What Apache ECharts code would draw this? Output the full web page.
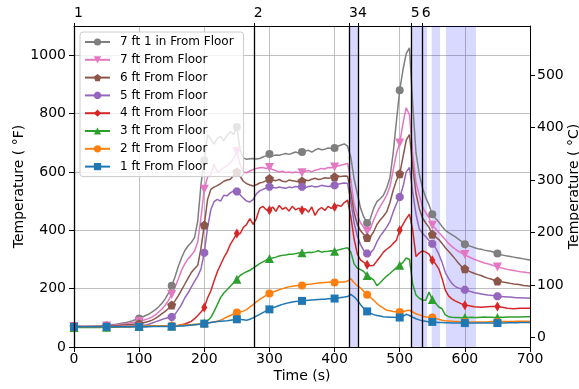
<!DOCTYPE html>
<html><head><meta charset="utf-8">
<script src="https://cdn.jsdelivr.net/npm/echarts@6/dist/echarts.min.js"></script>
<style>html,body{margin:0;padding:0;background:#fff}#c{width:579px;height:389px}</style>
</head><body><div id="c"></div>
<script>
// ---- data ----
const times = [0,5,10,15,20,25,30,35,40,45,50,55,60,65,70,75,80,85,90,95,100,105,110,115,120,125,130,135,140,145,150,155,160,165,170,175,180,185,190,195,200,205,210,215,220,225,230,235,240,245,250,255,260,265,270,275,280,285,290,295,300,305,310,315,320,325,330,335,340,345,350,355,360,365,370,375,380,385,390,395,400,405,410,415,420,425,430,435,440,445,450,455,460,465,470,475,480,485,490,495,500,505,510,515,520,525,530,535,540,545,550,555,560,565,570,575,580,585,590,595,600,605,610,615,620,625,630,635,640,645,650,655,660,665,670,675,680,685,690,695,700];
const markerTimes = [0,50,100,150,200,250,300,350,400,450,500,550,600,650];
const seriesNames = ['7 ft 1 in From Floor','7 ft From Floor','6 ft From Floor','5 ft From Floor','4 ft From Floor','3 ft From Floor','2 ft From Floor','1 ft From Floor'];
const ft7in1 = [70,70,70,70,71,71,71,72,72,73, 74,75,77,78,80,82,84,87,90,94, 98,103,108,113,120,128,138,150,165,185, 210,240,275,305,330,346,358,375,432,558, 640,728,712,695,715,722,706,725,738,728, 754,675,648,643,645,646,644,646,651,655, 661,655,658,657,660,663,660,664,668,665, 668,672,674,668,675,680,676,678,682,680, 682,688,692,696,688,650,575,525,475,445, 425,440,475,498,508,520,545,580,665,775, 880,950,1005,1025,830,665,592,545,512,487, 455,440,428,413,400,392,385,378,370,362, 352,348,344,340,337,335,332,330,328,324, 320,316,314,312,310,308,306,304,302,300, 298];
const ft7 = [70,70,70,70,70,70,70,71,71,72, 72,73,74,75,76,78,80,82,84,86, 87,90,94,98,103,110,120,130,143,160, 180,205,232,262,285,302,314,329,360,445, 541,582,590,626,600,605,615,622,632,645, 670,625,600,597,603,608,612,614,615,612, 615,608,604,600,602,598,600,597,600,598, 597,602,605,600,606,608,612,610,615,614, 617,620,623,626,629,571,490,452,425,410, 397,405,435,460,482,500,520,550,606,663, 699,766,820,795,660,565,520,480,460,443, 417,405,392,380,368,355,345,336,328,322, 317,310,305,300,296,292,288,285,282,278, 274,272,269,266,264,262,260,258,257,255, 254];
const ft6 = [70,70,70,70,70,70,70,70,70,71, 71,72,72,73,74,75,76,77,78,79, 80,82,85,88,92,98,106,114,122,132, 144,158,175,195,215,235,255,268,280,340, 418,505,540,548,553,560,568,572,575,588, 600,585,568,560,555,552,556,562,565,570, 577,572,570,574,568,566,572,570,568,566, 569,572,570,575,578,574,576,580,578,580, 583,585,584,586,585,530,460,420,398,385, 375,378,395,420,435,448,463,495,537,571, 594,651,709,728,617,526,475,442,425,410, 386,378,368,355,340,328,315,302,288,276, 268,262,256,252,248,245,240,236,233,229, 226,224,222,220,218,216,215,213,211,210, 208];
const ft5 = [70,70,70,69,69,69,69,69,69,69, 70,70,70,70,71,71,72,72,72,72, 72,74,75,78,82,86,90,94,98,101, 103,112,128,145,168,185,205,225,243,268, 323,409,470,498,506,500,520,518,528,535, 533,522,510,500,497,505,525,535,540,545, 549,547,545,548,546,544,548,546,550,548, 549,546,550,552,548,550,554,552,550,552, 554,558,560,562,560,500,425,380,350,330, 320,322,335,360,380,395,411,430,463,491, 514,549,600,615,530,455,405,390,378,365, 354,340,318,290,255,235,218,208,202,199, 196,192,189,186,184,182,180,178,177,176, 174,173,172,171,171,170,169,169,168,168, 167];
const ft4 = [68,68,68,68,68,68,68,68,68,68, 68,68,69,69,69,69,69,69,70,70, 70,70,70,71,71,71,71,72,72,72, 72,73,74,76,79,83,88,97,108,120, 135,168,192,226,258,282,306,325,352,370, 389,388,410,420,440,420,440,475,482,470, 469,480,465,485,472,478,466,482,470,476, 469,474,462,480,451,470,478,468,482,475, 480,486,482,495,503,446,370,318,298,290, 282,278,280,295,309,325,335,343,355,366, 400,420,440,455,400,310,322,330,325,318, 297,285,268,235,195,175,165,158,153,148, 143,142,140,138,137,136,137,138,139,139, 139,137,135,133,132,131,132,133,133,133, 133];
const ft3 = [67,67,67,67,67,67,67,67,67,68, 68,68,68,68,69,69,69,69,70,70, 70,70,70,71,71,71,71,72,72,72, 72,73,73,74,74,75,76,77,78,80, 83,90,101,122,145,169,185,196,208,220, 232,245,252,258,263,270,278,286,292,298, 303,305,308,312,314,315,318,318,320,322, 323,322,325,324,326,330,325,327,328,330, 328,332,335,338,340,325,285,270,265,258, 245,238,230,210,220,232,243,252,262,272, 280,290,305,300,215,178,167,161,160,188, 163,150,137,131,110,104,102,101,101,100, 101,101,102,101,101,102,103,102,102,101, 101,102,102,103,103,103,103,103,104,104, 104];
const ft2 = [69,69,69,69,69,69,69,69,69,69, 69,69,69,69,70,70,70,70,70,70, 70,70,71,71,71,72,72,72,73,73, 73,74,74,75,75,76,76,77,78,79, 80,82,84,86,88,92,97,103,108,113, 118,120,123,128,137,145,155,163,170,177, 183,188,192,196,200,203,206,208,210,211, 211,213,215,216,218,219,220,221,222,223, 221,222,223,223,226,234,220,210,202,190, 179,170,160,149,140,133,126,124,122,121, 120,122,124,126,120,114,110,106,103,102, 101,98,95,92,90,89,88,87,87,86, 86,86,86,86,86,86,86,86,87,87, 86,87,87,87,87,87,88,88,88,88, 88];
const ft1 = [69,69,69,69,69,69,69,69,69,69, 69,69,69,69,69,69,69,69,69,69, 69,69,69,69,70,70,70,70,70,70, 70,71,72,72,73,74,75,76,77,78, 80,82,84,86,87,88,89,90,92,93, 95,94,93,92,95,100,106,112,118,124, 129,134,138,142,146,149,152,154,156,157, 158,159,160,161,162,163,164,164,165,165, 166,168,170,171,173,180,172,160,145,132, 122,116,111,108,106,104,103,102,102,101, 101,105,112,108,102,97,93,90,88,86, 86,85,84,84,83,83,82,82,82,82, 82,82,82,82,82,82,82,82,82,82, 82,82,82,83,83,83,83,84,84,84, 84];
const eventTimes = [0,276,422,436,517,534];
const eventLabels = ['1','2','3','4','5','6'];
const shadedBands = [[422,436],[517,542],[549,562],[571,617]];
const xTicks = [0,100,200,300,400,500,600,700];
const yTicksF = [0,200,400,600,800,1000];
const yTicksC = [0,100,200,300,400,500];

// ---- styles ----
const FONT = 'DejaVu Sans';
const allValues = [ft7in1, ft7, ft6, ft5, ft4, ft3, ft2, ft1];
const colors = ['#7f7f7f','#e377c2','#8c564b','#9467bd','#d62728','#2ca02c','#ff7f0e','#1f77b4'];
const pentagon = 'path://M0,-1L0.951,-0.309L0.588,0.809L-0.588,0.809L-0.951,-0.309Z';
const octagon = 'path://M-0.414,-1L0.414,-1L1,-0.414L1,0.414L0.414,1L-0.414,1L-1,0.414L-1,-0.414Z';
const triDown = 'path://M-1,-1L1,-1L0,1Z';
const symbols = ['circle', triDown, pentagon, octagon, 'diamond', 'triangle', 'circle', 'rect'];
const sizes = [8, 9, 9, 8, [6,10], 9, 8, 8];

function buildData(vals){
  return times.map((t,i)=>{
    const item = {value:[t, vals[i]]};
    if (markerTimes.indexOf(t) < 0) item.symbol = 'none';
    return item;
  });
}

const series = [];
series.push({
  type:'line', data:[], silent:true, z:1, xAxisIndex:0, yAxisIndex:0,
  markArea:{silent:true, itemStyle:{color:'rgba(0,0,255,0.15)'},
    data: shadedBands.map(b=>[{xAxis:b[0]},{xAxis:b[1]}])}
});
seriesNames.forEach((n,k)=>{
  series.push({
    name:n, type:'line', xAxisIndex:0, yAxisIndex:0,
    data: buildData(allValues[k]),
    symbol: symbols[k], symbolSize: sizes[k],
    showSymbol:true, showAllSymbol:true,
    lineStyle:{width:1.5, color:colors[k]},
    itemStyle:{color:colors[k]},
    emphasis:{disabled:true}, z:3
  });
});
series.push({
  type:'line', data:[], silent:true, z:6, xAxisIndex:0, yAxisIndex:0,
  markLine:{silent:true, symbol:['none','none'], label:{show:false},
    lineStyle:{color:'#000', width:1.3, type:'solid'},
    data: eventTimes.map(t=>({xAxis:t}))}
});

const axisText = {color:'#000', fontSize:14, fontFamily:FONT};
const plain = (v)=>String(v);
const option = {
  animation:false,
  backgroundColor:'#fff',
  grid:{left:74, right:49, top:26, bottom:42, containLabel:false, outerBoundsMode:'none'},
  legend:{
    orient:'vertical', left:80, top:32,
    data: seriesNames,
    itemWidth:25, itemHeight:9, itemGap:5.8,
    padding:[4,10,4,4],
    backgroundColor:'rgba(255,255,255,0.8)', borderColor:'#cccccc', borderWidth:1, borderRadius:3,
    textStyle:{color:'#000', fontSize:12, fontFamily:FONT, padding:[0,0,0,5]},
    selectedMode:false
  },
  xAxis:[{
    type:'value', position:'bottom', min:0, max:700, interval:100,
    name:'Time (s)', nameLocation:'middle', nameGap:22, nameMoveOverlap:false, nameTextStyle:axisText,
    axisLine:{show:true, onZero:false, lineStyle:{color:'#000', width:1}},
    axisTick:{show:true, inside:false, length:5, lineStyle:{color:'#000'}},
    axisLabel:Object.assign({margin:5, formatter:plain}, axisText),
    splitLine:{show:true, lineStyle:{color:'#b0b0b0', width:0.8}}
  },{
    type:'value', position:'top', min:0, max:700,
    axisLine:{show:true, onZero:false, lineStyle:{color:'#000', width:1}},
    axisTick:{show:true, inside:false, length:3, customValues:eventTimes, lineStyle:{color:'#000'}},
    axisLabel:Object.assign({margin:6, align:'left', customValues:eventTimes,
      formatter:(v)=>{ const i = eventTimes.indexOf(v); return i>=0 ? eventLabels[i] : ''; }}, axisText),
    splitLine:{show:false}
  }],
  yAxis:[{
    type:'value', position:'left', min:0, max:1100, interval:200,
    name:'Temperature ( °F)', nameLocation:'middle', nameGap:48, nameMoveOverlap:false, nameTextStyle:axisText,
    axisLine:{show:true, onZero:false, lineStyle:{color:'#000', width:1}},
    axisTick:{show:true, inside:false, length:5, customValues:yTicksF, lineStyle:{color:'#000'}},
    axisLabel:Object.assign({margin:8, customValues:yTicksF, formatter:plain}, axisText),
    splitLine:{show:true, lineStyle:{color:'#b0b0b0', width:0.8}}
  },{
    type:'value', position:'right', min:-160/9, max:5340/9,
    name:'Temperature ( °C)', nameLocation:'middle', nameGap:37, nameRotate:90, nameMoveOverlap:false, nameTextStyle:axisText,
    axisLine:{show:true, onZero:false, lineStyle:{color:'#000', width:1}},
    axisTick:{show:true, inside:false, length:5, customValues:yTicksC, lineStyle:{color:'#000'}},
    axisLabel:Object.assign({margin:7, customValues:yTicksC, formatter:plain}, axisText),
    splitLine:{show:false}
  }],
  series: series
};
const chart = echarts.init(document.getElementById('c'), null, {renderer:'canvas'});
chart.setOption(option);
</script>
</body></html>
